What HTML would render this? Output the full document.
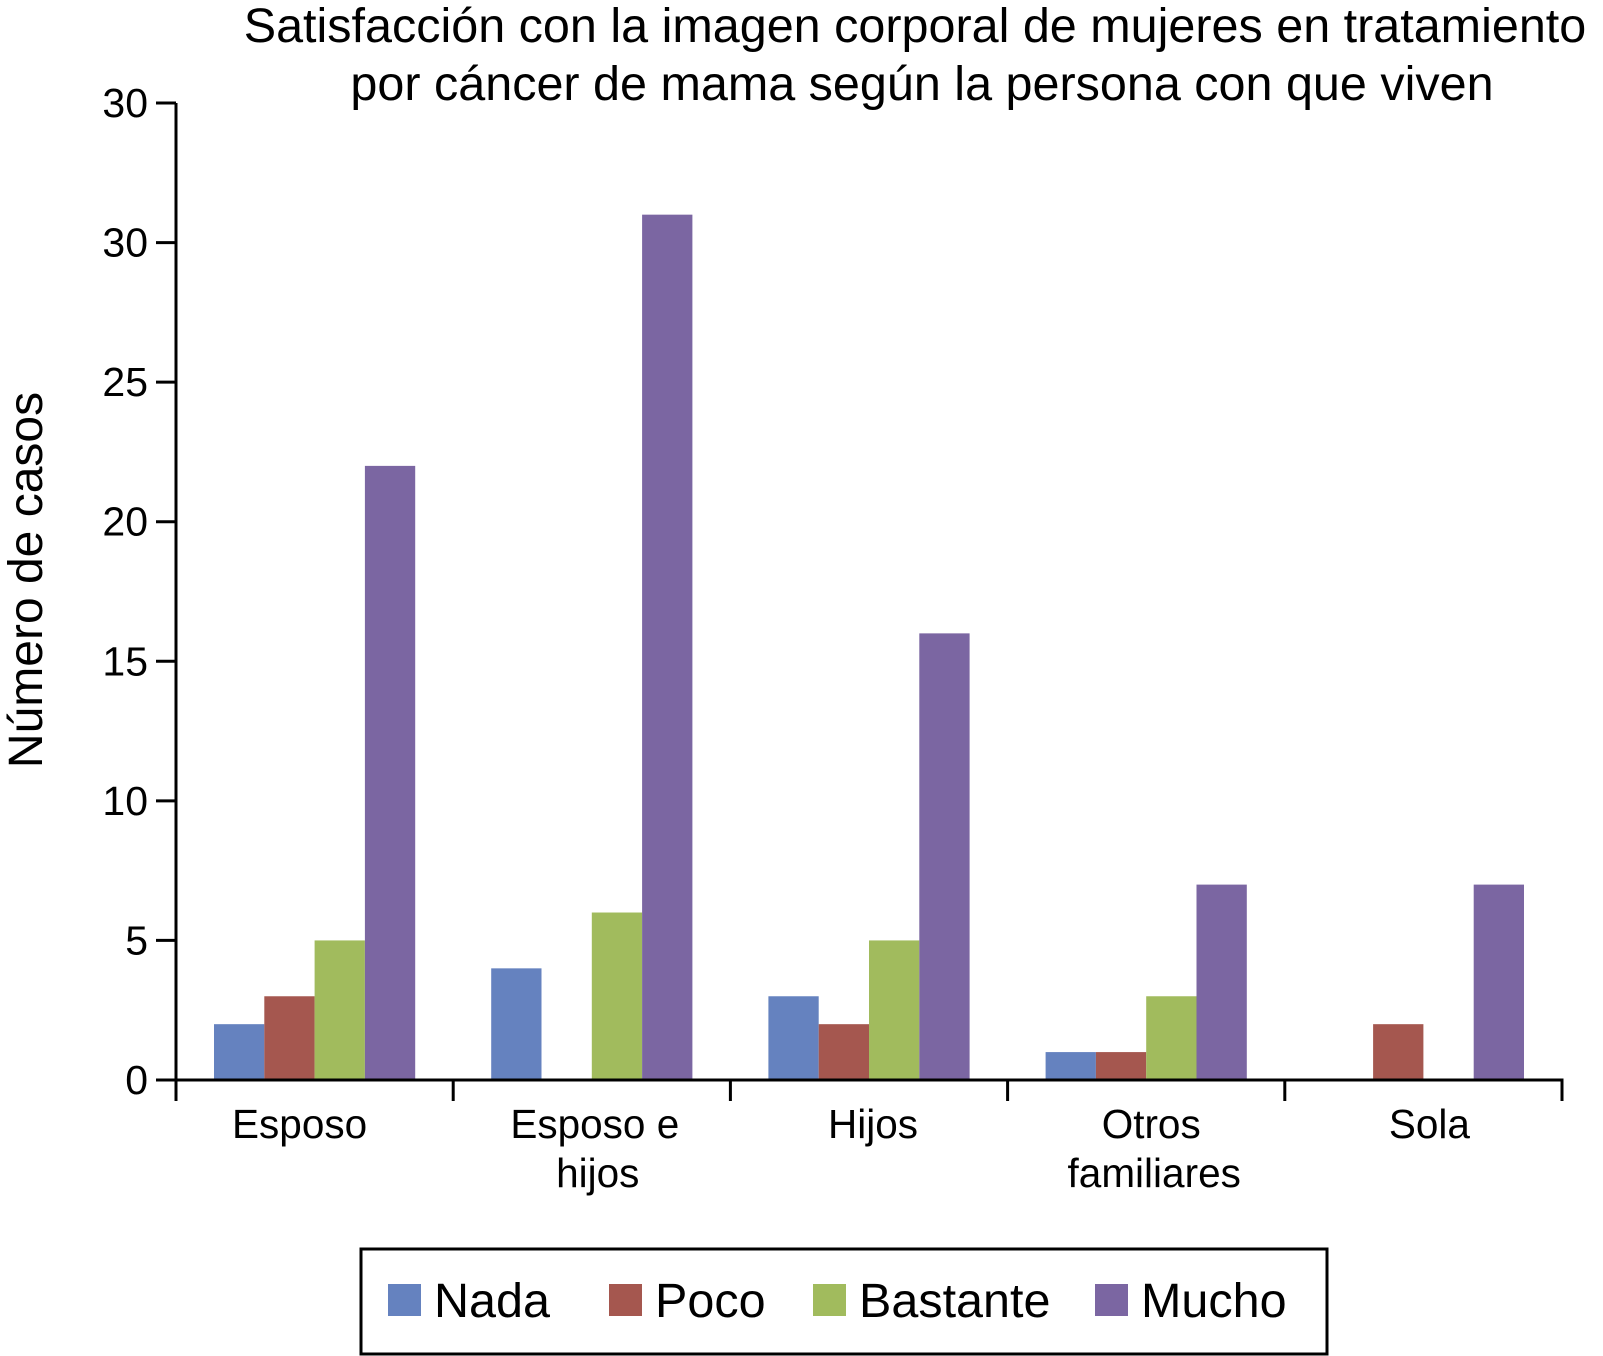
<!DOCTYPE html>
<html><head><meta charset="utf-8"><style>
body{margin:0;background:#fff}
svg{display:block;font-family:"Liberation Sans",Arial,sans-serif}
</style></head><body>
<svg id="chart" width="1603" height="1356" viewBox="0 0 1603 1356" xmlns="http://www.w3.org/2000/svg">
<text x="915" y="42" font-size="48.5" text-anchor="middle">Satisfacción con la imagen corporal de mujeres en tratamiento</text>
<text x="922" y="100" font-size="48.5" text-anchor="middle">por cáncer de mama según la persona con que viven</text>
<text x="0" y="0" font-size="48" text-anchor="middle" transform="translate(42,580) rotate(-90)">Número de casos</text>
<g id="plot"></g>
<rect x="361" y="1249" width="966" height="105" fill="#fff" stroke="#000" stroke-width="3"/>
<g id="legend"></g>
</svg>
<script>
const categories = [["Esposo"],["Esposo e","hijos"],["Hijos"],["Otros","familiares"],["Sola"]];
const seriesNames = ["Nada","Poco","Bastante","Mucho"];
const nada = [2,4,3,1,0];
const poco = [3,0,2,1,2];
const bastante = [5,6,5,3,0];
const mucho = [22,31,16,7,7];
const yTickValues = [0,5,10,15,20,25,30,35];
const yTickLabels = ["0","5","10","15","20","25","30","30"];

const colors = ["#6582bf","#a5574f","#a1bb5d","#7b66a2"];
const series = [nada,poco,bastante,mucho];
const labelShift = [-15,3,4,5,6];
const NS="http://www.w3.org/2000/svg";
const x0=176,x1=1562,y0=1080,yTop=103,yMax=35;
const y=v=>y0-(v/yMax)*(y0-yTop);
const catW=(x1-x0)/categories.length, barW=50.3, groupOff=38;
const plot=document.getElementById('plot');
function mk(tag,attrs){const e=document.createElementNS(NS,tag);for(const k in attrs)e.setAttribute(k,attrs[k]);return e;}
series.forEach((s,si)=>{
  s.forEach((v,ci)=>{
    if(v<=0)return;
    const r=mk('rect',{x:x0+ci*catW+groupOff+si*barW,y:y(v),width:barW,height:y0-y(v),fill:colors[si]});
    
    
    plot.appendChild(r);
  });
});
const ya=mk('line',{x1:x0,y1:yTop,x2:x0,y2:y0+2,stroke:'#000','stroke-width':3});


plot.appendChild(ya);
const xa=mk('line',{x1:x0-2,y1:y0,x2:x1+1.5,y2:y0,stroke:'#000','stroke-width':3});


plot.appendChild(xa);
yTickValues.forEach((v,i)=>{
  const t=mk('line',{x1:x0-20,y1:y(v),x2:x0,y2:y(v),stroke:'#000','stroke-width':3});
  
  
  plot.appendChild(t);
  const l=mk('text',{x:148,y:y(v)+14,'font-size':41,'text-anchor':'end'});
  l.textContent=yTickLabels[i];
  
  
  plot.appendChild(l);
});
for(let i=0;i<=categories.length;i++){
  const t=mk('line',{x1:x0+i*catW,y1:y0,x2:x0+i*catW,y2:y0+21,stroke:'#000','stroke-width':3});
  
  
  plot.appendChild(t);
}
categories.forEach((c,ci)=>{
  c.forEach((line,li)=>{
    const l=mk('text',{x:x0+ci*catW+catW/2+labelShift[ci]+(li?3:0),y:1138+li*49,'font-size':40.5,'text-anchor':'middle'});
    l.textContent=line;
    
    
    plot.appendChild(l);
  });
});
const legend=document.getElementById('legend');
const swX=[388,609,813,1095];
seriesNames.forEach((n,i)=>{
  const r=mk('rect',{x:swX[i],y:1284,width:33,height:32,fill:colors[i]});
  
  
  legend.appendChild(r);
  const t=mk('text',{x:swX[i]+46,y:1317,'font-size':48.5});
  t.textContent=n;
  
  
  legend.appendChild(t);
});
</script>
</body></html>
